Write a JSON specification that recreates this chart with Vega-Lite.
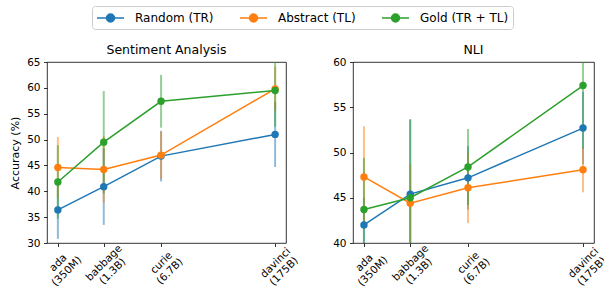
{
  "$schema": "https://vega.github.io/schema/vega-lite/v6.json",
  "padding": {"left": 9, "top": 5, "right": 5, "bottom": 0},
  "config": {
    "font": "DejaVu Sans",
    "view": {"stroke": "#000000", "strokeWidth": 0.8},
    "axis": {"grid": false, "domain": false, "tickColor": "#000000", "tickSize": 3.5, "tickWidth": 0.8, "labelColor": "#000000", "labelFontSize": 10.5, "labelPadding": 3.5, "labelOverlap": false, "titleColor": "#000000", "titleFontSize": 11, "titleFontWeight": "normal", "labelFont": "DejaVu Sans", "titleFont": "DejaVu Sans"},
    "title": {"fontSize": 12.5, "fontWeight": "normal", "color": "#000000", "offset": 1, "font": "DejaVu Sans"}
  },
  "data": {"values": [
    {"task": "Sentiment Analysis", "model": "ada", "size": 350000000, "series": "Random (TR)", "acc": 36.4, "lo": 30.8, "hi": 42.0},
    {"task": "Sentiment Analysis", "model": "babbage", "size": 1300000000, "series": "Random (TR)", "acc": 40.9, "lo": 33.5, "hi": 48.3},
    {"task": "Sentiment Analysis", "model": "curie", "size": 6700000000, "series": "Random (TR)", "acc": 46.8, "lo": 41.9, "hi": 51.7},
    {"task": "Sentiment Analysis", "model": "davinci", "size": 175000000000, "series": "Random (TR)", "acc": 51.0, "lo": 44.7, "hi": 57.3},
    {"task": "Sentiment Analysis", "model": "ada", "size": 350000000, "series": "Abstract (TL)", "acc": 44.6, "lo": 38.7, "hi": 50.5},
    {"task": "Sentiment Analysis", "model": "babbage", "size": 1300000000, "series": "Abstract (TL)", "acc": 44.2, "lo": 37.8, "hi": 50.6},
    {"task": "Sentiment Analysis", "model": "curie", "size": 6700000000, "series": "Abstract (TL)", "acc": 47.0, "lo": 42.4, "hi": 51.5},
    {"task": "Sentiment Analysis", "model": "davinci", "size": 175000000000, "series": "Abstract (TL)", "acc": 59.8, "lo": 55.5, "hi": 64.1},
    {"task": "Sentiment Analysis", "model": "ada", "size": 350000000, "series": "Gold (TR + TL)", "acc": 41.8, "lo": 34.7, "hi": 48.9},
    {"task": "Sentiment Analysis", "model": "babbage", "size": 1300000000, "series": "Gold (TR + TL)", "acc": 49.5, "lo": 39.6, "hi": 59.4},
    {"task": "Sentiment Analysis", "model": "curie", "size": 6700000000, "series": "Gold (TR + TL)", "acc": 57.4, "lo": 52.3, "hi": 62.5},
    {"task": "Sentiment Analysis", "model": "davinci", "size": 175000000000, "series": "Gold (TR + TL)", "acc": 59.5, "lo": 52.5, "hi": 66.5},
    {"task": "NLI", "model": "ada", "size": 350000000, "series": "Random (TR)", "acc": 42.0, "lo": 39.0, "hi": 45.0},
    {"task": "NLI", "model": "babbage", "size": 1300000000, "series": "Random (TR)", "acc": 45.4, "lo": 37.1, "hi": 53.7},
    {"task": "NLI", "model": "curie", "size": 6700000000, "series": "Random (TR)", "acc": 47.2, "lo": 43.7, "hi": 50.7},
    {"task": "NLI", "model": "davinci", "size": 175000000000, "series": "Random (TR)", "acc": 52.7, "lo": 48.7, "hi": 56.7},
    {"task": "NLI", "model": "ada", "size": 350000000, "series": "Abstract (TL)", "acc": 47.3, "lo": 41.7, "hi": 52.9},
    {"task": "NLI", "model": "babbage", "size": 1300000000, "series": "Abstract (TL)", "acc": 44.4, "lo": 40.1, "hi": 48.7},
    {"task": "NLI", "model": "curie", "size": 6700000000, "series": "Abstract (TL)", "acc": 46.1, "lo": 42.2, "hi": 50.0},
    {"task": "NLI", "model": "davinci", "size": 175000000000, "series": "Abstract (TL)", "acc": 48.1, "lo": 45.6, "hi": 50.6},
    {"task": "NLI", "model": "ada", "size": 350000000, "series": "Gold (TR + TL)", "acc": 43.7, "lo": 38.0, "hi": 49.4},
    {"task": "NLI", "model": "babbage", "size": 1300000000, "series": "Gold (TR + TL)", "acc": 45.0, "lo": 36.4, "hi": 53.6},
    {"task": "NLI", "model": "curie", "size": 6700000000, "series": "Gold (TR + TL)", "acc": 48.4, "lo": 44.2, "hi": 52.6},
    {"task": "NLI", "model": "davinci", "size": 175000000000, "series": "Gold (TR + TL)", "acc": 57.4, "lo": 50.4, "hi": 64.4}
  ]},
  "spacing": 30,
  "resolve": {"scale": {"y": "independent"}},
  "hconcat": [
    {
      "width": 239, "height": 181,
      "title": "Sentiment Analysis",
      "transform": [{"filter": "datum.task === 'Sentiment Analysis'"}],
      "encoding": {
        "x": {"field": "size", "type": "quantitative", "scale": {"type": "log", "domain": [256500000, 238900000000], "nice": false},
              "axis": {"title": null, "values": [350000000, 1300000000, 6700000000, 175000000000], "labelAngle": -45, "labelAlign": "center", "labelBaseline": "middle", "labelPadding": 16, "labelLineHeight": 12,
                       "labelExpr": "datum.value < 1e9 ? ['ada', '(350M)'] : datum.value < 5e9 ? ['babbage', '(1.3B)'] : datum.value < 1e11 ? ['curie', '(6.7B)'] : ['davinci', '(175B)']"}},
        "color": {"field": "series", "type": "nominal", "sort": ["Random (TR)", "Abstract (TL)", "Gold (TR + TL)"],
                  "scale": {"domain": ["Random (TR)", "Abstract (TL)", "Gold (TR + TL)"], "range": ["#1f77b4", "#ff7f0e", "#2ca02c"]},
                  "legend": {"title": null, "orient": "none", "legendX": 45, "legendY": -56, "direction": "horizontal", "columnPadding": 23,
                             "symbolType": "M-1,0H2.86M0.36,0A0.57,0.57,0,1,1,1.5,0A0.57,0.57,0,1,1,0.36,0Z", "symbolSize": 196, "symbolStrokeWidth": 1.5,
                             "labelFontSize": 12, "labelOffset": 23, "padding": 4, "strokeColor": "#cccccc", "fillColor": "#ffffff", "cornerRadius": 3, "labelColor": "#000000", "labelFont": "DejaVu Sans",
                             "encode": {"symbols": {"update": {"fill": {"scale": "color", "field": "value"}, "stroke": {"scale": "color", "field": "value"}, "opacity": {"value": 1}}}}}}
      },
      "layer": [
        {"mark": {"type": "rule", "strokeWidth": 2, "opacity": 0.5, "clip": true},
         "encoding": {"y": {"field": "lo", "type": "quantitative", "scale": {"domain": [30, 65], "nice": false}, "axis": {"title": "Accuracy (%)", "values": [30, 35, 40, 45, 50, 55, 60, 65], "titlePadding": 6}}, "y2": {"field": "hi"}}},
        {"mark": {"type": "line", "strokeWidth": 1.5, "point": {"filled": true, "size": 55, "opacity": 1}},
         "encoding": {"y": {"field": "acc", "type": "quantitative", "axis": {"title": "Accuracy (%)", "values": [30, 35, 40, 45, 50, 55, 60, 65], "titlePadding": 6}}}}
      ]
    },
    {
      "width": 241, "height": 181,
      "title": "NLI",
      "transform": [{"filter": "datum.task === 'NLI'"}],
      "encoding": {
        "x": {"field": "size", "type": "quantitative", "scale": {"type": "log", "domain": [256500000, 238900000000], "nice": false},
              "axis": {"title": null, "values": [350000000, 1300000000, 6700000000, 175000000000], "labelAngle": -45, "labelAlign": "center", "labelBaseline": "middle", "labelPadding": 16, "labelLineHeight": 12,
                       "labelExpr": "datum.value < 1e9 ? ['ada', '(350M)'] : datum.value < 5e9 ? ['babbage', '(1.3B)'] : datum.value < 1e11 ? ['curie', '(6.7B)'] : ['davinci', '(175B)']"}},
        "color": {"field": "series", "type": "nominal", "sort": ["Random (TR)", "Abstract (TL)", "Gold (TR + TL)"],
                  "scale": {"domain": ["Random (TR)", "Abstract (TL)", "Gold (TR + TL)"], "range": ["#1f77b4", "#ff7f0e", "#2ca02c"]},
                  "legend": {"title": null, "orient": "none", "legendX": 45, "legendY": -56, "direction": "horizontal", "columnPadding": 23,
                             "symbolType": "M-1,0H2.86M0.36,0A0.57,0.57,0,1,1,1.5,0A0.57,0.57,0,1,1,0.36,0Z", "symbolSize": 196, "symbolStrokeWidth": 1.5,
                             "labelFontSize": 12, "labelOffset": 23, "padding": 4, "strokeColor": "#cccccc", "fillColor": "#ffffff", "cornerRadius": 3, "labelColor": "#000000", "labelFont": "DejaVu Sans",
                             "encode": {"symbols": {"update": {"fill": {"scale": "color", "field": "value"}, "stroke": {"scale": "color", "field": "value"}, "opacity": {"value": 1}}}}}}
      },
      "layer": [
        {"mark": {"type": "rule", "strokeWidth": 2, "opacity": 0.5, "clip": true},
         "encoding": {"y": {"field": "lo", "type": "quantitative", "scale": {"domain": [40, 60], "nice": false}, "axis": {"title": null, "values": [40, 45, 50, 55, 60]}}, "y2": {"field": "hi"}}},
        {"mark": {"type": "line", "strokeWidth": 1.5, "point": {"filled": true, "size": 55, "opacity": 1}},
         "encoding": {"y": {"field": "acc", "type": "quantitative", "axis": {"title": null, "values": [40, 45, 50, 55, 60]}}}}
      ]
    }
  ]
}
